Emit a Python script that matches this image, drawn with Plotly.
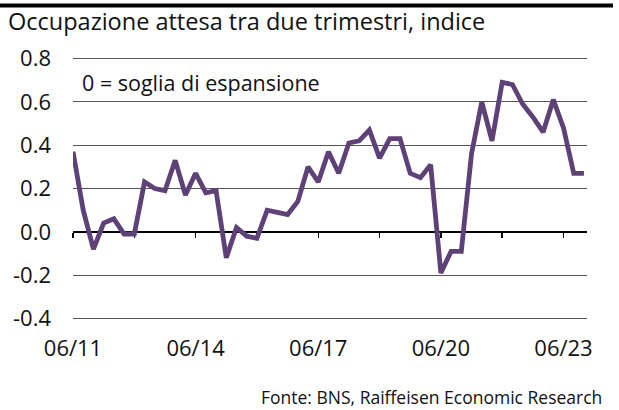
import plotly.graph_objects as go

# Quarterly index values, Q2 2011 .. Q4 2023
values = [0.37, 0.10, -0.08, 0.04, 0.06, -0.01, -0.01, 0.23, 0.20, 0.19,
          0.33, 0.17, 0.27, 0.18, 0.19, -0.12, 0.02, -0.02, -0.03, 0.10,
          0.09, 0.08, 0.14, 0.30, 0.23, 0.37, 0.27, 0.41, 0.42, 0.47,
          0.34, 0.43, 0.43, 0.27, 0.25, 0.31, -0.19, -0.09, -0.09, 0.36,
          0.60, 0.42, 0.69, 0.68, 0.59, 0.53, 0.46, 0.61, 0.48, 0.27, 0.27]
quarters = list(range(len(values)))  # quarter index from 06/11

tick_quarters = [0, 6, 12, 18, 24, 30, 36, 42, 48]
tick_labels = ["06/11", "", "06/14", "", "06/17", "", "06/20", "", "06/23"]
y_ticks = [-0.4, -0.2, 0.0, 0.2, 0.4, 0.6, 0.8]
y_labels = ["-0.4", "-0.2", "0.0", "0.2", "0.4", "0.6", "0.8"]

FONT = "Open Sans"
W, H = 619, 410
L, R, T, B = 73, 32, 56.5, 90
pw, ph = W - L - R, H - T - B
Y0, Y1 = -0.407, 0.807

def px_x(px):
    return (px - L) / pw

def px_y(py):
    return (H - B - py) / ph

fig = go.Figure()
fig.add_trace(go.Scatter(
    x=quarters, y=values, mode="lines",
    line=dict(color="#5E4177", width=4.8),
    hoverinfo="skip", showlegend=False,
))

fig.update_layout(
    width=W, height=H,
    margin=dict(l=L, r=R, t=T, b=B, autoexpand=False),
    paper_bgcolor="white", plot_bgcolor="white",
    font=dict(family=FONT, color="#111111"),
    title=dict(text="Occupazione attesa tra due trimestri, indice",
               xref="container", yref="container",
               x=8 / W, xanchor="left", y=1 - 22 / H, yanchor="middle",
               font=dict(size=23.5, family=FONT, color="#111111")),
    xaxis=dict(range=[0, 50.3], anchor="free", position=(0 - Y0) / (Y1 - Y0),
               automargin=False,
               showgrid=False, zeroline=False,
               showline=True, linecolor="black", linewidth=2,
               tickmode="array", tickvals=tick_quarters, ticktext=tick_labels,
               ticks="outside", ticklen=5, tickwidth=1.5, tickcolor="black",
               ticklabelstandoff=92,
               tickfont=dict(size=22, family=FONT, color="#111111"),
               layer="below traces", fixedrange=True),
    yaxis=dict(range=[Y0, Y1], tickmode="array", tickvals=y_ticks, ticktext=y_labels,
               automargin=False,
               showgrid=True, gridcolor="#555555", gridwidth=1,
               zeroline=False, showline=False, ticks="",
               ticklabelstandoff=21,
               tickfont=dict(size=22, family=FONT, color="#111111"),
               layer="below traces", fixedrange=True),
    shapes=[dict(type="line", xref="paper", yref="paper",
                 x0=px_x(0), x1=px_x(613), y0=px_y(5), y1=px_y(5),
                 line=dict(color="black", width=4))],
    annotations=[
        dict(text="0 = soglia di espansione", xref="paper", yref="paper",
             x=px_x(80), y=px_y(82), xanchor="left", yanchor="middle",
             showarrow=False, font=dict(size=21.5, family=FONT, color="#111111")),
        dict(text="Fonte: BNS, Raiffeisen Economic Research", xref="paper", yref="paper",
             x=px_x(604), y=px_y(397), xanchor="right", yanchor="middle",
             showarrow=False, font=dict(size=17.5, family=FONT, color="#111111")),
    ],
)

fig.write_html("out.html", config={"staticPlot": True},
               post_script="document.body.style.margin='0';")
